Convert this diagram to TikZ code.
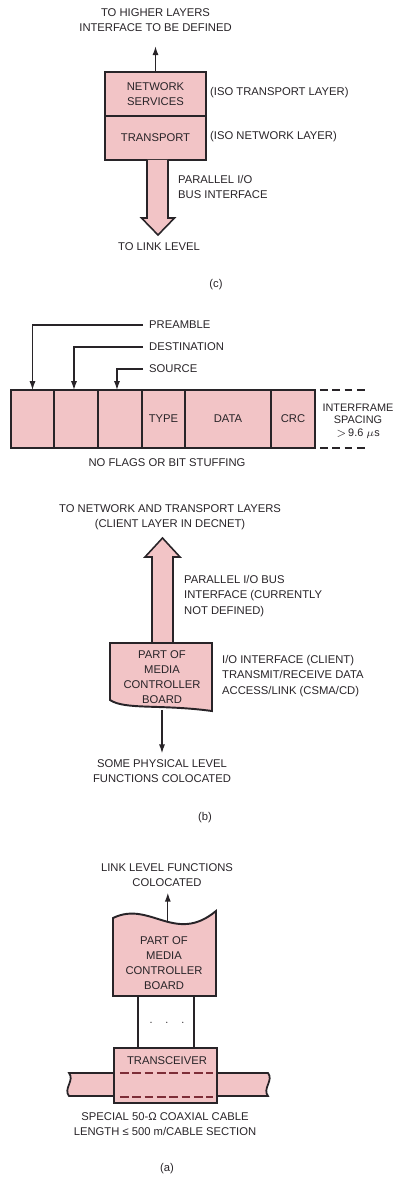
\documentclass[tikz,border=0pt]{standalone}
\usepackage{fontspec}
\setmainfont{Liberation Sans}
\usepackage{tikz}
\usetikzlibrary{calc}
\usetikzlibrary{arrows.meta}
\usetikzlibrary{positioning}
\definecolor{layerpink}{RGB}{242,196,198}
\definecolor{inkgrey}{RGB}{40,36,40}
\definecolor{dashred}{RGB}{125,45,55}
\tikzset{layer/.style={rectangle,draw=inkgrey,fill=layerpink,line width=1.1pt,inner sep=0pt,outer sep=0pt,minimum width=2.02cm,minimum height=0.88cm,align=center,text=inkgrey,font=\fontsize{6.4}{8.6}\selectfont}}
\tikzset{field/.style={rectangle,draw=inkgrey,fill=layerpink,line width=1pt,inner sep=0pt,outer sep=0pt,minimum height=1.16cm,text=inkgrey,font=\fontsize{6.4}{8.6}\selectfont}}
\tikzset{fat/.style={draw=inkgrey,fill=layerpink,line width=0.9pt,line join=miter}}
\tikzset{board/.style={draw=inkgrey,fill=layerpink,line width=1.1pt}}
\tikzset{thin/.style={draw=inkgrey,line width=0.7pt,-{Latex[length=5pt,width=3.4pt]}}}
\tikzset{txt/.style={text=inkgrey,align=center,font=\fontsize{6.4}{8.6}\selectfont}}

\begin{document}
\begin{tikzpicture}[x=0.02cm,y=-0.02cm]
\useasboundingbox (0,0) rectangle (395,1177);

\node[txt] (hl) at (155.5,20.5) {TO HIGHER LAYERS\\INTERFACE TO BE DEFINED};
\node[layer] (ns) at (155.5,94) {NETWORK\\SERVICES};
\node[layer,below=0pt of ns] (tr) {TRANSPORT};
\node[txt,anchor=west] (isoT) at (204,93) {(ISO TRANSPORT LAYER)};
\node[txt,anchor=west] (isoN) at (204,137) {(ISO NETWORK LAYER)};
\draw[thin] (ns.north) -- ($(hl.south)+(0,8)$);
\draw[fat] ($(tr.south)+(-8.5,0)$) -- ++(0,58) -- ++(-5.5,0) -- ($(tr.south)+(2.5,75)$)
  -- ($(tr.south)+(19,58)$) -- ++(-6.5,0) -- ($(tr.south)+(12.5,0)$);
\node[txt,anchor=west,align=left] (pio) at (172,187) {PARALLEL I/O\\BUS INTERFACE};
\node[txt] (ll) at (159,247) {TO LINK LEVEL};
\node[txt] (capc) at (216,285) {(c)};

\node[field,minimum width=0.86cm] (pre) at (32.5,419) {};
\node[field,minimum width=0.88cm,right=0pt of pre] (dst) {};
\node[field,minimum width=0.88cm,right=0pt of dst] (src) {};
\node[field,minimum width=0.86cm,right=0pt of src] (type) {TYPE};
\node[field,minimum width=1.72cm,right=0pt of type] (data) {DATA};
\node[field,minimum width=0.88cm,right=0pt of data] (crc) {CRC};
\node[txt,anchor=west] (preL) at (143,325) {PREAMBLE};
\node[txt,anchor=west] (dstL) at (143,347) {DESTINATION};
\node[txt,anchor=west] (srcL) at (143,369) {SOURCE};
\draw[thin] (preL.west) -| (pre.north);
\draw[thin] (dstL.west) -| ($(dst.north)+(-2,0)$);
\draw[thin] (srcL.west) -| ($(src.north)+(-3,0)$);
\draw[inkgrey,line width=0.8pt,dash pattern=on 4.5pt off 2.5pt] ($(crc.north east)+(5,0)$) -- ++(48,0);
\draw[inkgrey,line width=0.8pt,dash pattern=on 4.5pt off 2.5pt] ($(crc.south east)+(5,0)$) -- ++(48,0);
\node[txt,font=\fontsize{6.2}{7.1}\selectfont] (gap) at (358,421) {INTERFRAME\\SPACING\\$>$\,9.6 $\mu$s};
\node[txt] (nf) at (167,463) {NO FLAGS OR BIT STUFFING};

\node[txt] (tn) at (170,517.5) {TO NETWORK AND TRANSPORT LAYERS\\(CLIENT LAYER IN DECNET)};
\coordinate (bTop) at (162.5,643);
\draw[fat] ($(bTop)+(-10.5,0)$) -- ++(0,-86) -- ++(-7,0) -- ($(bTop)+(0,-105)$)
  -- ($(bTop)+(17.5,-86)$) -- ++(-7,0) -- ($(bTop)+(10.5,0)$);
\draw[board] (110,643) -- (212,643) -- (212,711) .. controls (160,704) and (125,710) .. (110,700) -- cycle;
\node[txt] (mcb) at (162,677) {PART OF\\MEDIA\\CONTROLLER\\BOARD};
\node[txt,anchor=west,align=left] (pb) at (178,596) {PARALLEL I/O BUS\\INTERFACE (CURRENTLY\\NOT DEFINED)};
\node[txt,anchor=west,align=left] (io) at (216,676) {I/O INTERFACE (CLIENT)\\TRANSMIT/RECEIVE DATA\\ACCESS/LINK (CSMA/CD)};
\node[txt] (phys) at (162,771) {SOME PHYSICAL LEVEL\\FUNCTIONS COLOCATED};
\draw[thin] (mcb.south) -- (mcb.south |- phys.north);
\node[txt] (capb) at (205,818) {(b)};

\node[txt] (lf) at (167,875) {LINK LEVEL FUNCTIONS\\COLOCATED};
\draw[board] (113,918) .. controls (150,900) and (175,945) .. (216,911) -- (216,996) -- (113,996) -- cycle;
\path (113,918) .. controls (150,900) and (175,945) .. (216,911) coordinate[pos=0.55] (waveA);
\node[txt] (mcbA) at (164,963) {PART OF\\MEDIA\\CONTROLLER\\BOARD};
\draw[thin] (waveA) -- (waveA |- lf.south);
\draw[fill=layerpink,draw=inkgrey,line width=1pt] (69,1073) -- (268,1073) .. controls (274,1080) and (262,1089) .. (268,1096)
  -- (69,1096) .. controls (63,1089) and (75,1080) .. (69,1073) -- cycle;
\node[layer,minimum width=2.06cm,minimum height=1.1cm] (xcvr) at (165.5,1075.5) {};
\node[txt] (xcvrT) at (167,1061) {TRANSCEIVER};
\draw[dashred,line width=0.9pt,dash pattern=on 5pt off 2pt] ($(xcvr.west)+(6,-2.5)$) -- ($(xcvr.east)+(-4,-2.5)$);
\draw[dashred,line width=0.9pt,dash pattern=on 5pt off 2pt] ($(xcvr.west)+(6,21.5)$) -- ($(xcvr.east)+(-4,21.5)$);
\draw[inkgrey,line width=0.8pt] ($(xcvr.north)+(-27.5,0)$) -- ++(0,-52);
\draw[inkgrey,line width=0.8pt] ($(xcvr.north)+(28.5,0)$) -- ++(0,-52);
\node[txt] (dots) at (167,1023) {$\cdot\hspace{5pt}\cdot\hspace{5pt}\cdot$};
\node[txt] (cab) at (165,1124) {SPECIAL 50-Ω COAXIAL CABLE\\LENGTH ≤ 500 m/CABLE SECTION};
\node[txt] (capa) at (167,1169) {(a)};
\end{tikzpicture}
\end{document}
